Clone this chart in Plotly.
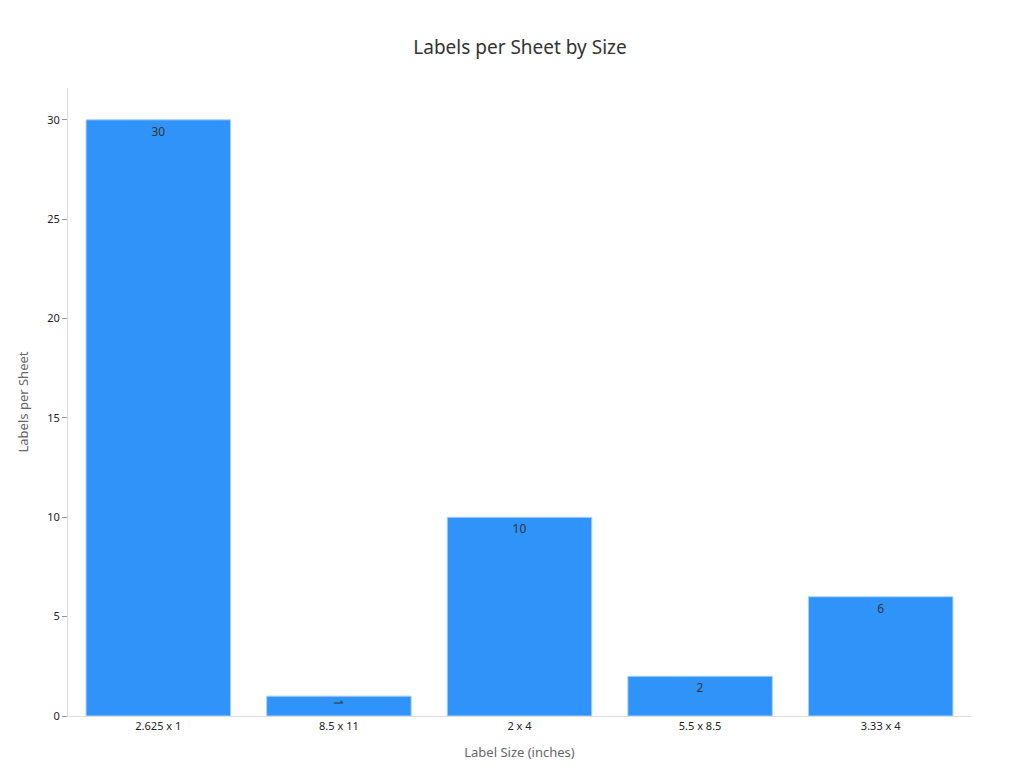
import plotly.graph_objects as go

sizes = ["2.625 x 1", "8.5 x 11", "2 x 4", "5.5 x 8.5", "3.33 x 4"]
labels_per_sheet = [30, 1, 10, 2, 6]

fig = go.Figure(go.Bar(
    x=sizes, y=labels_per_sheet, text=labels_per_sheet,
    textposition="inside", insidetextanchor="end",
    textfont=dict(color="#333333", size=12),
    marker=dict(color="#2f93f9", line=dict(color="#a9d0f7", width=1)),
    width=0.8,
))
fig.update_layout(
    width=1024, height=768,
    margin=dict(l=60, r=61, t=80, b=60),
    paper_bgcolor="white", plot_bgcolor="white",
    font=dict(family="Noto Sans", color="#222222", size=11),
    title=dict(text="Labels per Sheet by Size", x=0.5, y=0.957, xanchor="center",
               font=dict(size=19, color="#333333")),
    showlegend=False,
)
fig.update_xaxes(title=dict(text="Label Size (inches)", font=dict(size=13, color="#666666")),
                 showline=True, linecolor="#dddddd", ticks="", showgrid=False)
fig.update_yaxes(title=dict(text="Labels per Sheet", font=dict(size=13, color="#666666")),
                 range=[0, 31.6], dtick=5, showline=True, linecolor="#dddddd",
                 ticks="outside", tickcolor="#999999", ticklen=5, showgrid=False, zeroline=False)
fig.write_html("out.html")
